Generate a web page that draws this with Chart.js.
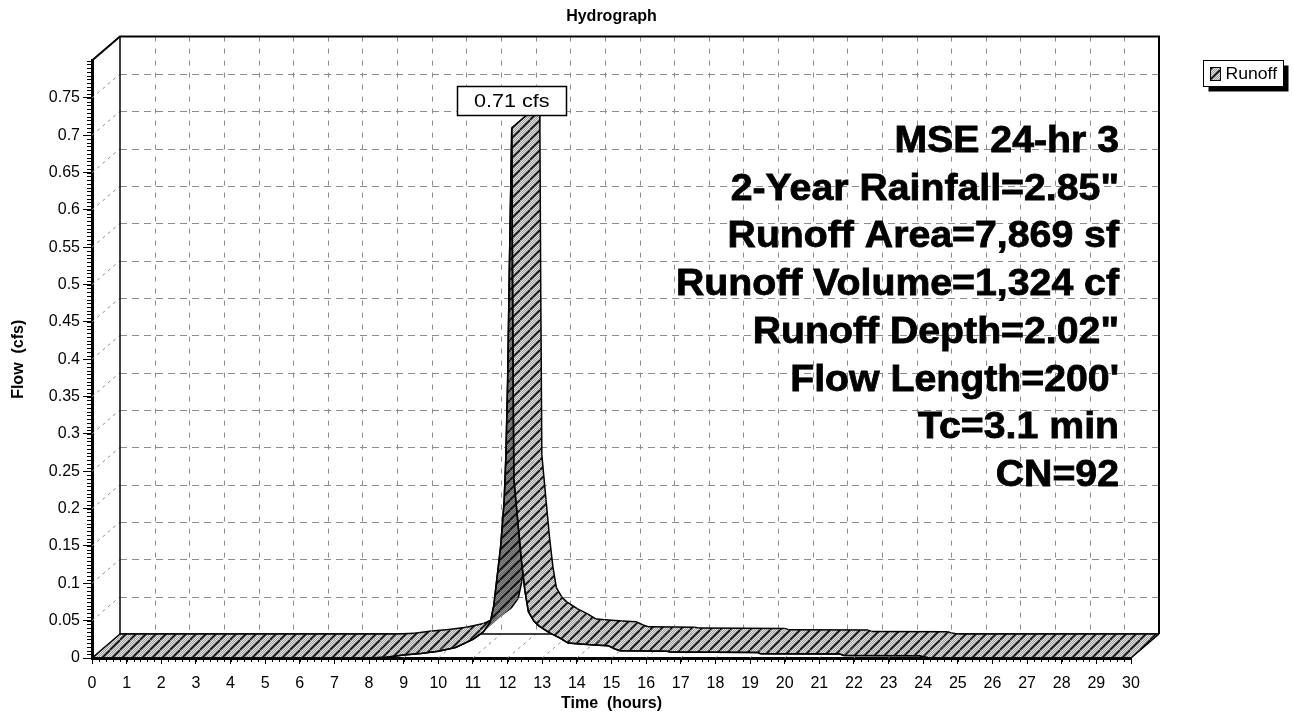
<!DOCTYPE html>
<html>
<head>
<meta charset="utf-8">
<title>Hydrograph</title>
<script src="https://cdn.jsdelivr.net/npm/chart.js@4.4.1/dist/chart.umd.min.js"></script>
<style>
  html, body { margin: 0; padding: 0; background: #fff; }
  #wrap { width: 1294px; height: 715px; }
</style>
</head>
<body>
<div id="wrap"><canvas id="hydrograph" width="1294" height="715"></canvas></div>
<script>
// Datos del hidrograma
const hours = [0, 8.0, 8.5, 9.0, 9.5, 10.0, 10.5, 11.0, 11.3, 11.5, 11.6, 11.7, 11.8, 11.9, 11.95, 12.0, 12.05, 12.12,
  12.15, 12.18, 12.3, 12.4, 12.5, 12.6, 12.75, 12.9, 13.2, 13.5, 13.75, 14.0, 14.5, 14.9, 15.1, 15.25, 16.0, 16.6,
  16.7, 19.2, 19.3, 21.6, 21.7, 23.9, 24.0, 24.2, 30];
const flows = [0, 0, 0.001, 0.004, 0.006, 0.009, 0.014, 0.025, 0.035, 0.048, 0.07, 0.11, 0.15, 0.21, 0.27, 0.37, 0.52, 0.71,
  0.45, 0.24, 0.18, 0.13, 0.09, 0.062, 0.05, 0.043, 0.034, 0.027, 0.02, 0.019, 0.0175, 0.0165, 0.012, 0.0098, 0.0095, 0.009,
  0.008, 0.0075, 0.0058, 0.0052, 0.0035, 0.003, 0.0015, 0, 0];

const hourTicks = [0, 1, 2, 3, 4, 5, 6, 7, 8, 9, 10, 11, 12, 13, 14, 15, 16, 17, 18, 19, 20, 21, 22, 23, 24, 25, 26, 27, 28, 29, 30];
const flowTicks = [0, 0.05, 0.1, 0.15, 0.2, 0.25, 0.3, 0.35, 0.4, 0.45, 0.5, 0.55, 0.6, 0.65, 0.7, 0.75];

const stormInfo = ['MSE 24-hr 3', '2-Year Rainfall=2.85"', 'Runoff Area=7,869 sf', 'Runoff Volume=1,324 cf',
  'Runoff Depth=2.02"', "Flow Length=200'", 'Tc=3.1 min', 'CN=92'];

const FONT = '"Liberation Sans", Arial, Helvetica, sans-serif';
const DX = 28, DY = -24; // profundidad del efecto 3D

function makePattern(base, fine) {
  const s = 10;
  const c = document.createElement('canvas');
  c.width = s; c.height = s;
  const g = c.getContext('2d');
  g.fillStyle = base;
  g.fillRect(0, 0, s, s);
  g.strokeStyle = fine;
  g.lineWidth = 1;
  for (let k = 0; k <= 2 * s; k += 2) {
    g.beginPath(); g.moveTo(k - s, s); g.lineTo(k, 0); g.stroke();
  }
  g.strokeStyle = '#000';
  g.lineWidth = 1.6;
  for (let k = 0; k <= 2 * s; k += s) {
    g.beginPath(); g.moveTo(k - s, s); g.lineTo(k, 0); g.stroke();
  }
  return g.createPattern(c, 'repeat');
}
const lightPattern = makePattern('#e4e4e4', '#9a9a9a');
const darkPattern = makePattern('#8c8c8c', '#5c5c5c');

function seg(ctx, x1, y1, x2, y2) {
  ctx.beginPath(); ctx.moveTo(x1, y1); ctx.lineTo(x2, y2); ctx.stroke();
}

const hydro3d = {
  id: 'hydro3d',
  beforeDatasetsDraw(chart) {
    const { ctx, chartArea: a } = chart;
    const xs = chart.scales.x, ys = chart.scales.y;
    ctx.save();

    // rejilla de la pared del fondo
    ctx.strokeStyle = '#8c8c8c';
    ctx.lineWidth = 1;
    ctx.setLineDash([5, 7]);
    hourTicks.forEach(h => {
      if (h === xs.min || h === xs.max) return;
      const px = Math.round(xs.getPixelForValue(h)) + DX + 0.5;
      seg(ctx, px, a.top + DY, px, a.bottom + DY);
    });
    ctx.setLineDash([7, 5]);
    flowTicks.forEach(v => {
      if (v === 0) return;
      const py = Math.round(ys.getPixelForValue(v)) + DY + 0.5;
      seg(ctx, a.left + DX, py, a.right + DX, py);
    });
    ctx.setLineDash([3, 4]);
    flowTicks.forEach(v => {
      const py = ys.getPixelForValue(v);
      seg(ctx, a.left, py, a.left + DX, py + DY);
    });
    hourTicks.forEach(h => {
      const px = xs.getPixelForValue(h);
      seg(ctx, px, a.bottom, px + DX, a.bottom + DY);
    });
    ctx.setLineDash([]);

    // contorno de la caja
    ctx.strokeStyle = '#000';
    ctx.lineWidth = 2;
    ctx.beginPath();
    ctx.moveTo(a.left, a.top);
    ctx.lineTo(a.left + DX, a.top + DY);
    ctx.lineTo(a.right + DX, a.top + DY);
    ctx.lineTo(a.right + DX, a.bottom + DY);
    ctx.stroke();
    ctx.lineWidth = 1.5;
    seg(ctx, a.left + DX, a.top + DY, a.left + DX, a.bottom + DY);
    seg(ctx, a.left + DX, a.bottom + DY, a.right + DX, a.bottom + DY);

    // marcas menores
    ctx.lineWidth = 1;
    for (let v = 0; v <= ys.max + 1e-9; v += 0.005) {
      const py = Math.round(ys.getPixelForValue(v)) + 0.5;
      seg(ctx, a.left - 5, py, a.left, py);
    }
    for (let h = 0; h <= xs.max + 1e-9; h += 0.2) {
      const px = Math.round(xs.getPixelForValue(h)) + 0.5;
      seg(ctx, px, a.bottom, px, a.bottom + 4);
    }

    // cinta 3D de la serie
    const pts = hours.map((h, i) => ({ x: xs.getPixelForValue(h), y: ys.getPixelForValue(flows[i]) }));
    ctx.lineJoin = 'round';
    for (let i = 0; i < pts.length - 1; i++) {
      const p = pts[i], q = pts[i + 1];
      const cross = (q.x - p.x) * DY - (q.y - p.y) * DX;
      ctx.fillStyle = cross > 0 ? darkPattern : lightPattern;
      ctx.beginPath();
      ctx.moveTo(p.x, p.y);
      ctx.lineTo(q.x, q.y);
      ctx.lineTo(q.x + DX, q.y + DY);
      ctx.lineTo(p.x + DX, p.y + DY);
      ctx.closePath();
      ctx.fill();
      ctx.strokeStyle = '#000';
      ctx.lineWidth = 1.5;
      ctx.beginPath();
      ctx.moveTo(p.x, p.y); ctx.lineTo(q.x, q.y);
      ctx.moveTo(p.x + DX, p.y + DY); ctx.lineTo(q.x + DX, q.y + DY);
      ctx.stroke();
    }
    const peak = flows.indexOf(Math.max(...flows));
    ctx.lineWidth = 1.5;
    [0, peak, pts.length - 1].forEach(i => seg(ctx, pts[i].x, pts[i].y, pts[i].x + DX, pts[i].y + DY));
    ctx.restore();
  },
  afterDatasetsDraw(chart) {
    const { ctx, chartArea: a } = chart;
    const xs = chart.scales.x, ys = chart.scales.y;
    ctx.save();

    // etiqueta del pico
    const peak = flows.indexOf(Math.max(...flows));
    const px = xs.getPixelForValue(hours[peak]);
    const py = ys.getPixelForValue(flows[peak]);
    const bw = 109, bh = 29;
    const bx = Math.round(px - bw / 2) + 0.5, by = Math.round(py - 13 - bh) + 0.5;
    ctx.fillStyle = '#fff';
    ctx.fillRect(bx, by, bw, bh);
    ctx.strokeStyle = '#000';
    ctx.lineWidth = 1.5;
    ctx.strokeRect(bx, by, bw, bh);
    ctx.fillStyle = '#000';
    ctx.font = '18px ' + FONT;
    ctx.textAlign = 'center';
    ctx.textBaseline = 'middle';
    ctx.save();
    ctx.scale(1.2, 1);
    ctx.fillText(flows[peak].toFixed(2) + ' cfs', px / 1.2, by + bh / 2 + 1);
    ctx.restore();

    // bloque de texto
    ctx.font = 'bold 36px ' + FONT;
    ctx.textAlign = 'right';
    ctx.textBaseline = 'alphabetic';
    ctx.save();
    ctx.scale(1.09, 1);
    ctx.lineWidth = 0.8;
    ctx.strokeStyle = '#000';
    stormInfo.forEach((t, i) => {
      ctx.fillText(t, 1119 / 1.09, 152 + i * 47.7);
      ctx.strokeText(t, 1119 / 1.09, 152 + i * 47.7);
    });
    ctx.restore();

    // titulo
    ctx.font = 'bold 16px ' + FONT;
    ctx.textAlign = 'center';
    ctx.textBaseline = 'middle';
    ctx.fillText('Hydrograph', (a.left + a.right) / 2, 17);

    // leyenda
    const lx = 1203.5, ly = 60.5, lw = 80, lh = 26;
    ctx.fillStyle = '#000';
    ctx.fillRect(lx + 5, ly + 5, lw, lh);
    ctx.fillStyle = '#fff';
    ctx.fillRect(lx, ly, lw, lh);
    ctx.lineWidth = 1;
    ctx.strokeRect(lx, ly, lw, lh);
    ctx.fillStyle = lightPattern;
    ctx.fillRect(lx + 7, ly + 7, 10, 13);
    ctx.strokeRect(lx + 7, ly + 7, 10, 13);
    ctx.fillStyle = '#000';
    ctx.font = '16px ' + FONT;
    ctx.textAlign = 'left';
    ctx.save();
    ctx.scale(1.1, 1);
    ctx.fillText(chart.data.datasets[0].label, (lx + 22) / 1.1, ly + lh / 2 + 1);
    ctx.restore();

    ctx.restore();
  }
};

Chart.defaults.font.family = FONT;
Chart.defaults.color = '#000';

new Chart(document.getElementById('hydrograph'), {
  type: 'line',
  data: {
    datasets: [{
      label: 'Runoff',
      data: hours.map((h, i) => ({ x: h, y: flows[i] })),
      borderColor: '#000',
      borderWidth: 1.5,
      pointRadius: 0,
      fill: false,
      tension: 0
    }]
  },
  options: {
    responsive: false,
    animation: false,
    layout: { padding: { left: 0, right: 163, top: 60.6, bottom: 0 } },
    plugins: {
      legend: { display: false },
      title: { display: false },
      tooltip: { enabled: false }
    },
    scales: {
      x: {
        type: 'linear',
        min: 0,
        max: 30,
        afterBuildTicks: s => { s.ticks = hourTicks.map(v => ({ value: v })); },
        afterFit: s => { s.height = 57; },
        ticks: { font: { size: 16 }, color: '#000', padding: 10, maxRotation: 0, autoSkip: false },
        grid: { display: true, drawOnChartArea: false, drawTicks: true, tickLength: 6, color: '#000' },
        border: { display: true, color: '#000', width: 3 },
        title: { display: true, text: 'Time  (hours)', font: { size: 16, weight: 'bold' }, padding: { top: 0, bottom: 2 } }
      },
      y: {
        type: 'linear',
        min: 0,
        max: 0.8,
        afterBuildTicks: s => { s.ticks = flowTicks.map(v => ({ value: v })); },
        afterFit: s => { s.width = 92; },
        ticks: { font: { size: 16 }, color: '#000', padding: 3, callback: v => String(v) },
        grid: { display: true, drawOnChartArea: false, drawTicks: true, tickLength: 9, color: '#000' },
        border: { display: true, color: '#000', width: 3 },
        title: { display: true, text: 'Flow  (cfs)', font: { size: 16, weight: 'bold' }, padding: { top: 9, bottom: 0 } }
      }
    }
  },
  plugins: [hydro3d]
});
</script>
</body>
</html>
